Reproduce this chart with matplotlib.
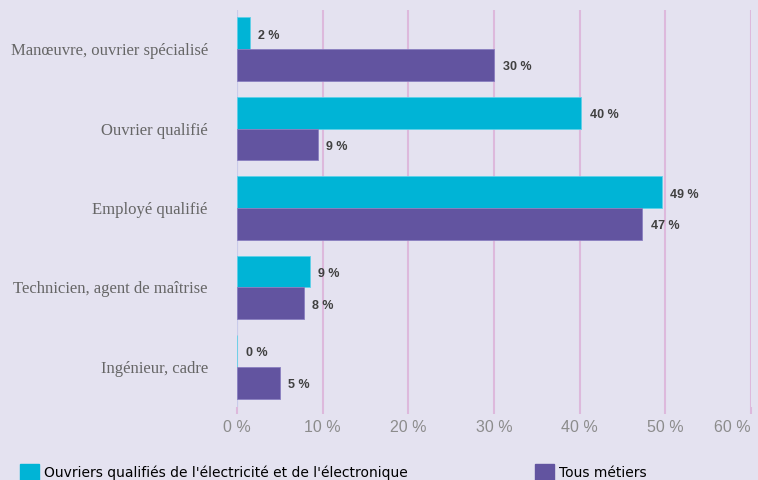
import matplotlib.pyplot as plt
import matplotlib.patches as mpatches
import numpy as np

# data
categories = ['Manœuvre, ouvrier spécialisé', 'Ouvrier qualifié', 'Employé qualifié',
              'Technicien, agent de maîtrise', 'Ingénieur, cadre']
elec = [1.5, 40.2, 49.6, 8.5, 0]
elec_labels = ['2 %', '40 %', '49 %', '9 %', '0 %']
tous = [30.0, 9.4, 47.3, 7.8, 5.0]
tous_labels = ['30 %', '9 %', '47 %', '8 %', '5 %']
xticks = [0, 10, 20, 30, 40, 50, 60]
xtick_labels = ['0 %', '10 %', '20 %', '30 %', '40 %', '50 %', '60 %']

bg = '#E4E2F0'
cyan = '#00B4D6'
purple = '#6254A0'
grid_col = '#DDB9DC'
num_font = ['Liberation Sans', 'DejaVu Sans']

fig = plt.figure(figsize=(7.58, 4.80), dpi=100, facecolor=bg)
ax = fig.add_axes([237 / 758, 1 - 406.5 / 480, (751 - 237) / 758, 397 / 480])
ax.set_facecolor(bg)

y = np.arange(len(categories))
h = 0.4
ax.barh(y - h / 2, elec, height=h, color=cyan, edgecolor='#5FD0E8', linewidth=0.6, zorder=3)
ax.barh(y + h / 2, tous, height=h, color=purple, edgecolor='#8A7FC0', linewidth=0.6, zorder=3)

# value labels
for i in range(len(categories)):
    ax.text(elec[i] + 1.0, y[i] - h / 2 + 0.03, elec_labels[i], va='center', ha='left',
            fontsize=9, fontweight='bold', color='#404040', family=num_font)
    ax.text(tous[i] + 1.0, y[i] + h / 2 + 0.03, tous_labels[i], va='center', ha='left',
            fontsize=9, fontweight='bold', color='#404040', family=num_font)

ax.set_xlim(0, 60)
ax.set_ylim(len(categories) - 0.5, -0.5)
ax.set_xticks(xticks)
ax.set_xticklabels(xtick_labels, fontsize=11.5, color='#8C8C8C', family=num_font)
ax.get_xticklabels()[-1].set_ha('right')
ax.set_yticks(y)
ax.set_yticklabels(categories, fontsize=12, color='#666666',
                   family=['Liberation Serif', 'DejaVu Serif'])

ax.tick_params(axis='y', length=0, pad=21)
ax.tick_params(axis='x', length=5, color=grid_col, width=1.5, pad=5)
ax.xaxis.grid(True, color=grid_col, linewidth=1.5, zorder=0)
ax.set_axisbelow(True)
for s in ax.spines.values():
    s.set_visible(False)
ax.axvline(0, color='#C9CBEA', linewidth=1.5, zorder=1)

# legend
h1 = mpatches.Patch(color=cyan, label="Ouvriers qualifiés de l'électricité et de l'électronique")
h2 = mpatches.Patch(color=purple, label='Tous métiers')
leg_kw = dict(frameon=False, fontsize=10, handlelength=1.4, handleheight=1.4,
              handletextpad=0.3, borderaxespad=0, borderpad=0)
leg1 = fig.legend(handles=[h1], loc='lower left', bbox_to_anchor=(20 / 758, 0.0), **leg_kw)
leg2 = fig.legend(handles=[h2], loc='lower left', bbox_to_anchor=(535 / 758, 0.0), **leg_kw)

fig.savefig('out.png', dpi=100, facecolor=bg)
